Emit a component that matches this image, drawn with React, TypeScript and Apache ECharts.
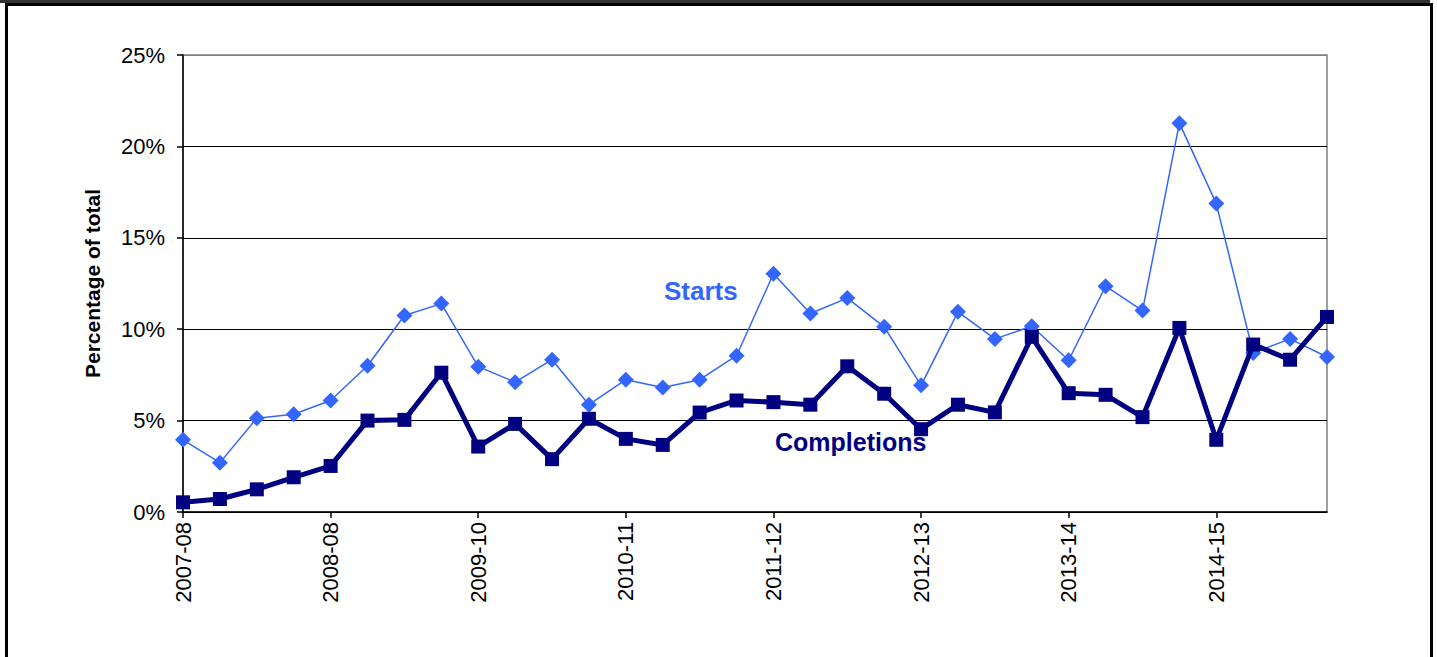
import React, { useEffect, useRef } from "react";
import * as echarts from "echarts";

const years = ["2007-08", "2008-08", "2009-10", "2010-11", "2011-12", "2012-13", "2013-14", "2014-15"];
const quarters = ["Q1", "Q2", "Q3", "Q4"];
const categories: string[] = [];
years.forEach((y) => quarters.forEach((q) => categories.push(y + " " + q)));

const starts = [
  3.95, 2.7, 5.13, 5.35, 6.1, 8.0, 10.75, 11.4,
  7.95, 7.1, 8.33, 5.87, 7.24, 6.81, 7.24, 8.55,
  13.03, 10.86, 11.7, 10.13, 6.93, 10.95, 9.47, 10.16,
  8.3, 12.35, 11.02, 21.27, 16.87, 8.7, 9.47, 8.48,
];
const completions = [
  0.53, 0.71, 1.24, 1.9, 2.52, 5.0, 5.04, 7.62,
  3.58, 4.82, 2.89, 5.1, 4.0, 3.67, 5.44, 6.1,
  6.01, 5.87, 7.97, 6.47, 4.53, 5.87, 5.45, 9.58,
  6.5, 6.41, 5.19, 10.07, 3.95, 9.16, 8.33, 10.67,
];
const yTicks = [0, 5, 10, 15, 20, 25];

const FONT = "Liberation Sans, Arial, sans-serif";
const LIGHT = "#3366FF";
const NAVY = "#000080";

export default function App() {
  const ref = useRef<HTMLDivElement>(null);
  useEffect(() => {
    if (!ref.current) return;
    const chart = echarts.init(ref.current, null, { renderer: "svg" });
    chart.setOption({
      animation: false,
      backgroundColor: "#ffffff",
      textStyle: { fontFamily: FONT },
      grid: {
        left: 183,
        right: 110,
        top: 55,
        bottom: 145,
        show: true,
        borderColor: "#808080",
        borderWidth: 1.5,
        containLabel: false,
      },
      xAxis: {
        type: "category",
        data: categories,
        boundaryGap: false,
        axisLine: { lineStyle: { color: "#000", width: 1.5 } },
        axisTick: { show: true, interval: 3, length: 6, lineStyle: { color: "#000", width: 1.5 } },
        axisLabel: {
          interval: 3,
          rotate: 90,
          color: "#000",
          fontSize: 22,
          fontFamily: FONT,
          margin: 10,
          formatter: (v: string) => v.split(" ")[0],
        },
        splitLine: { show: false },
      },
      yAxis: {
        type: "value",
        min: yTicks[0],
        max: yTicks[yTicks.length - 1],
        interval: 5,
        name: "Percentage of total",
        nameLocation: "middle",
        nameGap: 80,
        nameRotate: 90,
        nameTextStyle: { color: "#000", fontSize: 21, fontWeight: "bold", fontFamily: FONT },
        axisLine: { show: true, lineStyle: { color: "#000", width: 1.5 } },
        axisTick: { show: true, length: 6, lineStyle: { color: "#000", width: 1.5 } },
        axisLabel: {
          color: "#000",
          fontSize: 22,
          fontFamily: FONT,
          margin: 18,
          formatter: "{value}%",
        },
        splitLine: {
          show: true,
          lineStyle: { color: ["#000", "#000", "#000", "#000", "#000", "#808080"], width: 1.2 },
        },
      },
      series: [
        {
          name: "Starts",
          type: "line",
          data: starts,
          symbol: "diamond",
          symbolSize: 16,
          lineStyle: { color: LIGHT, width: 1.5 },
          itemStyle: { color: LIGHT },
          z: 2,
        },
        {
          name: "Completions",
          type: "line",
          data: completions,
          symbol: "rect",
          symbolSize: 14,
          lineStyle: { color: NAVY, width: 5 },
          itemStyle: { color: NAVY },
          z: 3,
        },
      ],
      graphic: [
        { type: "rect", shape: { x: 0, y: 0, width: 1430, height: 3 }, style: { fill: "#333" }, silent: true },
        { type: "rect", shape: { x: 5, y: 3, width: 1428, height: 3 }, style: { fill: "#000" }, silent: true },
        { type: "rect", shape: { x: 5, y: 3, width: 3, height: 660 }, style: { fill: "#000" }, silent: true },
        { type: "rect", shape: { x: 1430, y: 3, width: 3, height: 660 }, style: { fill: "#000" }, silent: true },
        {
          type: "text",
          left: 664,
          top: 278,
          style: { text: "Starts", fill: LIGHT, font: "bold 26px " + FONT },
          silent: true,
        },
        {
          type: "text",
          left: 775,
          top: 429,
          style: { text: "Completions", fill: NAVY, font: "bold 25px " + FONT },
          silent: true,
        },
      ],
    });
    return () => chart.dispose();
  }, []);
  return (
    <div
      ref={ref}
      style={{ position: "absolute", left: 0, top: 0, width: 1437, height: 657 }}
    />
  );
}
